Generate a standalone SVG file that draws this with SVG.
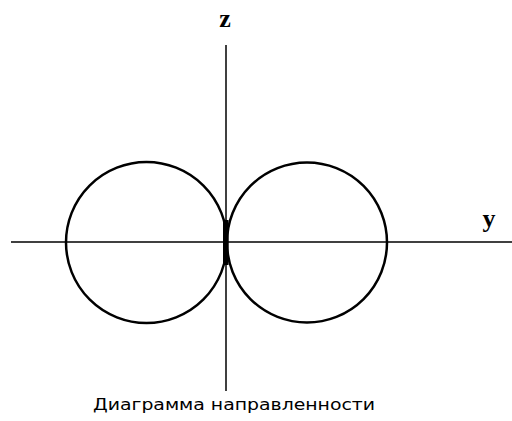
<svg xmlns="http://www.w3.org/2000/svg" width="512" height="421" viewBox="0 0 512 421">
<style>
.axis{stroke:#000;stroke-width:1.5;fill:none}
.lobe{stroke:#000;stroke-width:2.5;fill:none}
.lbl{font-family:"Liberation Serif",serif;font-weight:bold;font-size:26px;fill:#000}
.cap{font-family:"DejaVu Sans","Liberation Sans",sans-serif;font-size:16px;fill:#000}
</style>
<rect width="512" height="421" fill="#fff"/>
<g id="connectors">
<line class="axis" x1="11" y1="242" x2="512" y2="242"/>
<line class="axis" x1="226" y1="45" x2="226" y2="391"/>
</g>
<g id="lobe-left"><circle class="lobe" cx="146.5" cy="242.5" r="80.5"/></g>
<g id="lobe-right"><circle class="lobe" cx="307" cy="242.5" r="80"/></g>
<g id="center"><rect x="223" y="220" width="5.5" height="45" fill="#000"/></g>
<g id="label-z"><text class="lbl" x="225" y="27" text-anchor="middle">z</text></g>
<g id="label-y"><text class="lbl" x="489" y="227" text-anchor="middle">y</text></g>
<g id="caption"><text class="cap" x="93" y="410" textLength="282" lengthAdjust="spacingAndGlyphs">Диаграмма направленности</text></g>
</svg>
